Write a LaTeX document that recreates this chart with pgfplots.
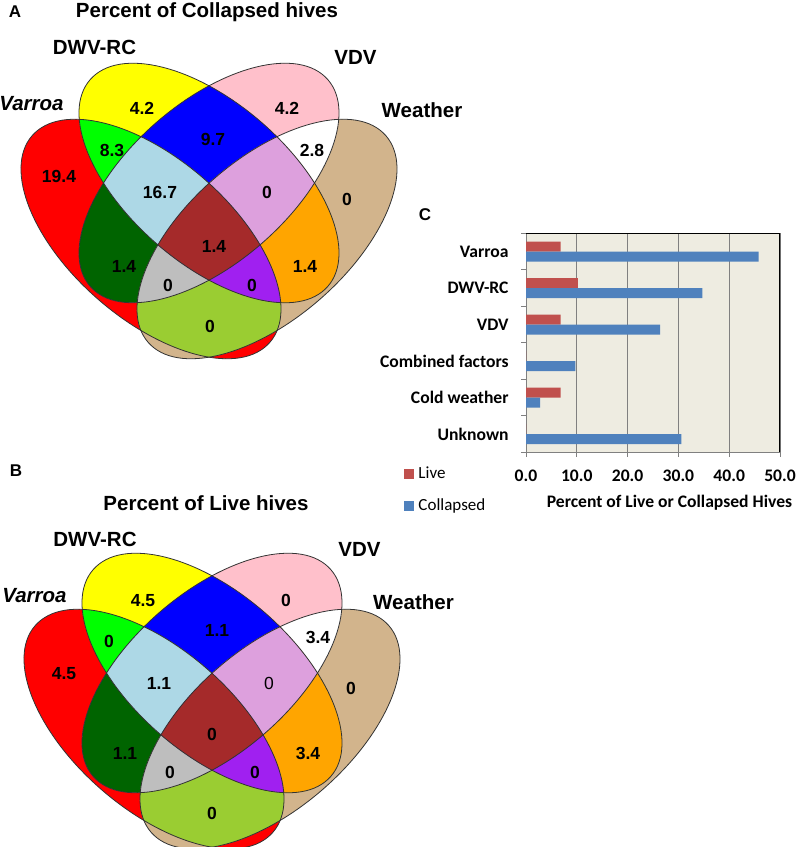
\documentclass[border=0pt]{standalone}
\usepackage{pgfplots}
\pgfplotsset{compat=1.18}
\usepackage{fontspec}
\setmainfont{Liberation Sans}
\newfontfamily\calib{Carlito}

\definecolor{cV}{HTML}{FF0000}
\definecolor{cD}{HTML}{FFFF00}
\definecolor{cR}{HTML}{FFC0CB}
\definecolor{cW}{HTML}{D2B48C}
\definecolor{cVD}{HTML}{00FF00}
\definecolor{cDR}{HTML}{0000FF}
\definecolor{cRW}{HTML}{FFFFFF}
\definecolor{cVR}{HTML}{006400}
\definecolor{cDW}{HTML}{FFA500}
\definecolor{cVW}{HTML}{9ACD32}
\definecolor{cVDR}{HTML}{ADD8E6}
\definecolor{cDRW}{HTML}{DDA0DD}
\definecolor{cVRW}{HTML}{BEBEBE}
\definecolor{cVDW}{HTML}{A020F0}
\definecolor{cAll}{HTML}{A52A2A}
\definecolor{cLive}{HTML}{C0504D}
\definecolor{cCol}{HTML}{4F81BD}
\definecolor{bgbar}{HTML}{EEECE1}
\definecolor{gridc}{HTML}{808080}

\newcommand{\ra}{78.75pt}
\newcommand{\rb}{40.1pt}
\newcommand{\Efill}[4]{\fill[#1,rotate around={#4:(axis cs:#2,#3)}] (axis cs:#2,#3) ellipse [x radius=\ra,y radius=\rb];}
\newcommand{\Eclip}[3]{\clip[rotate around={#3:(axis cs:#1,#2)}] (axis cs:#1,#2) ellipse [x radius=\ra,y radius=\rb];}
\newcommand{\Edraw}[3]{\draw[black!80,line width=0.4pt,rotate around={#3:(axis cs:#1,#2)}] (axis cs:#1,#2) ellipse [x radius=\ra,y radius=\rb];}
\newcommand{\clipV}{\Eclip{\Vx}{\Vy}{-41}}
\newcommand{\clipW}{\Eclip{\Wx}{\Vy}{41}}
\newcommand{\clipD}{\Eclip{\Cx}{\Cy}{-41}}
\newcommand{\clipR}{\Eclip{\Cx}{\Cy}{41}}
\newcommand{\fillV}[1]{\Efill{#1}{\Vx}{\Vy}{-41}}
\newcommand{\fillW}[1]{\Efill{#1}{\Wx}{\Vy}{41}}
\newcommand{\fillD}[1]{\Efill{#1}{\Cx}{\Cy}{-41}}
\newcommand{\fillR}[1]{\Efill{#1}{\Cx}{\Cy}{41}}
\newcommand{\Venn}[2]{%
  \pgfmathsetmacro\Cx{#1}\pgfmathsetmacro\Cy{#2}%
  \pgfmathsetmacro\Vx{#1-58}\pgfmathsetmacro\Vy{#2-56}\pgfmathsetmacro\Wx{#1+58}%
  \fillV{cV}\fillW{cW}\fillD{cD}\fillR{cR}%
  \begin{scope}\clipV\fillD{cVD}\end{scope}%
  \begin{scope}\clipD\fillR{cDR}\end{scope}%
  \begin{scope}\clipR\fillW{cRW}\end{scope}%
  \begin{scope}\clipV\fillR{cVR}\end{scope}%
  \begin{scope}\clipD\fillW{cDW}\end{scope}%
  \begin{scope}\clipV\fillW{cVW}\end{scope}%
  \begin{scope}\clipV\clipD\fillR{cVDR}\end{scope}%
  \begin{scope}\clipD\clipR\fillW{cDRW}\end{scope}%
  \begin{scope}\clipV\clipR\fillW{cVRW}\end{scope}%
  \begin{scope}\clipV\clipD\fillW{cVDW}\end{scope}%
  \begin{scope}\clipV\clipD\clipR\fillW{cAll}\end{scope}%
  \Edraw{\Vx}{\Vy}{-41}\Edraw{\Wx}{\Vy}{41}\Edraw{\Cx}{\Cy}{-41}\Edraw{\Cx}{\Cy}{41}%
}
\newcommand{\fnum}{\bfseries\fontsize{8.75}{10}\selectfont}
\newcommand{\fnumr}{\fontsize{8.75}{10}\selectfont}
\newcommand{\flab}{\bfseries\fontsize{10.25}{12}\selectfont}
\newcommand{\fpan}{\bfseries\fontsize{8.5}{10}\selectfont}
\newcommand{\fbar}{\calib\bfseries\fontsize{8.8}{10}\selectfont}

\begin{document}
\begin{tikzpicture}
\useasboundingbox (0,0) rectangle (398.5pt,423.5pt);
\begin{axis}[at={(0,0)}, anchor=south west, scale only axis,
  width=398.5pt, height=423.5pt, xmin=0, xmax=797, ymin=0, ymax=847,
  hide axis, clip=false]
\addplot[draw=none] coordinates {(0,0) (797,847)};
\pgfplotsextra{\Venn{209}{664}\Venn{212}{174}}
% Venn A labels
\node[font=\fpan] at (axis cs:15,835) {A};
\node[font=\flab] at (axis cs:207,835) {Percent of Collapsed hives};
\node[font=\flab] at (axis cs:94.5,800) {DWV-RC};
\node[font=\flab] at (axis cs:355.5,790) {VDV};
\node[font=\flab] at (axis cs:422,737) {Weather};
\node[font=\flab\itshape] at (axis cs:31.5,743) {Varroa};
\node[font=\fnum] at (axis cs:142,739) {4.2};
\node[font=\fnum] at (axis cs:287,739) {4.2};
\node[font=\fnum] at (axis cs:213,708) {9.7};
\node[font=\fnum] at (axis cs:112,697) {8.3};
\node[font=\fnum] at (axis cs:312,697) {2.8};
\node[font=\fnum] at (axis cs:59,671) {19.4};
\node[font=\fnum] at (axis cs:160,655) {16.7};
\node[font=\fnum] at (axis cs:267,655) {0};
\node[font=\fnum] at (axis cs:347,648) {0};
\node[font=\fnum] at (axis cs:214,601) {1.4};
\node[font=\fnum] at (axis cs:124,581) {1.4};
\node[font=\fnum] at (axis cs:305,581) {1.4};
\node[font=\fnum] at (axis cs:168,562) {0};
\node[font=\fnum] at (axis cs:252,562) {0};
\node[font=\fnum] at (axis cs:210,521) {0};
% Venn B labels
\node[font=\fpan] at (axis cs:16,376) {B};
\node[font=\flab] at (axis cs:206,344) {Percent of Live hives};
\node[font=\flab] at (axis cs:95,308) {DWV-RC};
\node[font=\flab] at (axis cs:359.5,298) {VDV};
\node[font=\flab] at (axis cs:413.5,245) {Weather};
\node[font=\flab\itshape] at (axis cs:34.5,251) {Varroa};
\node[font=\fnum] at (axis cs:143,246) {4.5};
\node[font=\fnum] at (axis cs:286,247) {0};
\node[font=\fnum] at (axis cs:217,217) {1.1};
\node[font=\fnum] at (axis cs:109,206) {0};
\node[font=\fnum] at (axis cs:318,210) {3.4};
\node[font=\fnum] at (axis cs:64,173) {4.5};
\node[font=\fnum] at (axis cs:159,164) {1.1};
\node[font=\fnumr] at (axis cs:269,164) {0};
\node[font=\fnum] at (axis cs:351,159) {0};
\node[font=\fnum] at (axis cs:212,113) {0};
\node[font=\fnum] at (axis cs:125,94) {1.1};
\node[font=\fnum] at (axis cs:308,94) {3.4};
\node[font=\fnum] at (axis cs:170,75) {0};
\node[font=\fnum] at (axis cs:255,75) {0};
\node[font=\fnum] at (axis cs:212,34) {0};
% panel C labels
\node[font=\fpan] at (axis cs:425,632) {C};
\node[font=\fbar] at (axis cs:669.5,344) {Percent of Live or Collapsed Hives};
\end{axis}

\begin{axis}[at={(263pt,197.35pt)}, anchor=south west, scale only axis,
  width=127pt, height=109.5pt,
  xbar, bar width=5pt,
  xmin=0, xmax=50, ymin=-0.5, ymax=5.5,
  xtick={0,10,20,30,40,50}, xticklabels={0.0,10.0,20.0,30.0,40.0,50.0},
  ytick={0,1,2,3,4,5},
  yticklabels={Unknown,Cold weather,Combined factors,VDV,DWV-RC,Varroa},
  minor ytick={-0.5,0.5,1.5,2.5,3.5,4.5,5.5},
  tick pos=left, tick align=outside,
  major tick length=2.2pt, minor tick length=2.5pt,
  every major y tick/.append style={draw=none},
  tick style={gridc, line width=0.5pt},
  xmajorgrids, grid style={gridc, line width=0.5pt},
  axis background/.style={fill=bgbar},
  axis line style={gridc, line width=0.5pt},
  ticklabel style={font=\fbar},
  yticklabel style={anchor=east, xshift=-3pt},
  xticklabel style={anchor=north, yshift=-3pt},
  legend style={at={(-0.48,-0.044)}, anchor=north west, draw=none, fill=none,
    font=\calib\fontsize{8.5}{10}\selectfont, row sep=5pt, inner sep=0pt},
  legend cell align=left,
  legend image code/.code={\fill[#1] (0pt,-2.5pt) rectangle (5pt,2.5pt);},
]
\addplot[fill=cLive, draw=none, bar shift=2.5pt] coordinates {(0,0) (6.8,1) (0,2) (6.8,3) (10.2,4) (6.8,5)};
\addplot[fill=cCol, draw=none, bar shift=-2.5pt] coordinates {(30.6,0) (2.8,1) (9.7,2) (26.4,3) (34.7,4) (45.8,5)};
\legend{Live,Collapsed}
\draw[black, line width=0.6pt] (axis cs:0,5.5) -- (axis cs:50,5.5) -- (axis cs:50,-0.5);
\end{axis}
\end{tikzpicture}
\end{document}
